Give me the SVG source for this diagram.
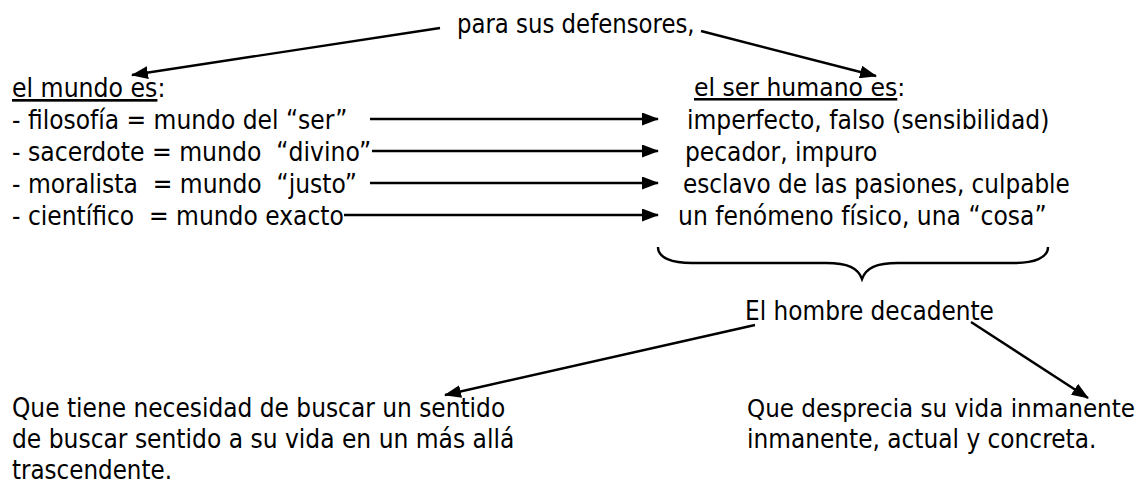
<svg xmlns="http://www.w3.org/2000/svg" width="1145" height="485" viewBox="0 0 1145 485">
<style>
text{font-family:"DejaVu Sans Condensed","DejaVu Sans",sans-serif;font-stretch:condensed;font-size:26.67px;fill:#000;white-space:pre}
.u{text-decoration:underline}
.c{stroke:#000;stroke-width:2.4;fill:none}
</style>
<defs>
<marker id="ah" markerUnits="userSpaceOnUse" markerWidth="17" markerHeight="13" refX="16" refY="6.5" orient="auto">
<path d="M0,0 L17,6.5 L0,13 Z" fill="#000"/>
</marker>
</defs>
<rect width="1145" height="485" fill="#fff"/>
<g id="top"><text x="457" y="33" textLength="237.6" lengthAdjust="spacingAndGlyphs">para sus defensores,</text></g>
<g id="mundo">
<text x="12" y="97" textLength="153.4" lengthAdjust="spacingAndGlyphs"><tspan class="u">el mundo es</tspan>:</text>
<text x="12" y="129" textLength="335.5" lengthAdjust="spacingAndGlyphs">- filosofía = mundo del “ser”</text>
<text x="12" y="161" textLength="359.1" lengthAdjust="spacingAndGlyphs">- sacerdote = mundo  “divino”</text>
<text x="12" y="193" textLength="345" lengthAdjust="spacingAndGlyphs">- moralista  = mundo  “justo”</text>
<text x="12" y="225" textLength="331.8" lengthAdjust="spacingAndGlyphs">- científico  = mundo exacto</text>
</g>
<g id="humano">
<text x="694" y="96" style="font-size:25.5px" textLength="211.2" lengthAdjust="spacingAndGlyphs"><tspan class="u">el ser humano es</tspan>:</text>
<text x="687" y="129" textLength="362.4" lengthAdjust="spacingAndGlyphs">imperfecto, falso (sensibilidad)</text>
<text x="685" y="161" textLength="192.3" lengthAdjust="spacingAndGlyphs">pecador, impuro</text>
<text x="683" y="193" textLength="386.8" lengthAdjust="spacingAndGlyphs">esclavo de las pasiones, culpable</text>
<text x="678" y="225" textLength="368.6" lengthAdjust="spacingAndGlyphs">un fenómeno físico, una “cosa”</text>
</g>
<g id="decadente"><text x="745" y="320" textLength="248.9" lengthAdjust="spacingAndGlyphs">El hombre decadente</text></g>
<g id="trascendente">
<text x="12" y="417" textLength="493.2" lengthAdjust="spacingAndGlyphs">Que tiene necesidad de buscar un sentido</text>
<text x="12" y="448" textLength="502.3" lengthAdjust="spacingAndGlyphs">de buscar sentido a su vida en un más allá</text>
<text x="12" y="479" textLength="160" lengthAdjust="spacingAndGlyphs">trascendente.</text>
</g>
<g id="desprecia">
<text x="747" y="417" style="font-size:25px" textLength="388" lengthAdjust="spacingAndGlyphs">Que desprecia su vida inmanente</text>
<text x="747" y="448" textLength="349.3" lengthAdjust="spacingAndGlyphs">inmanente, actual y concreta.</text>
</g>
<g id="connectors">
<line class="c" x1="440" y1="28" x2="132" y2="75" marker-end="url(#ah)"/>
<line class="c" x1="701" y1="31" x2="876" y2="76" marker-end="url(#ah)"/>
<line class="c" x1="370" y1="119" x2="658" y2="119" marker-end="url(#ah)"/>
<line class="c" x1="372" y1="151" x2="658" y2="151" marker-end="url(#ah)"/>
<line class="c" x1="370" y1="183" x2="658" y2="183" marker-end="url(#ah)"/>
<line class="c" x1="344" y1="215" x2="658" y2="215" marker-end="url(#ah)"/>
<path class="c" d="M658 247 C658 258 672 263 692 263 L826 263 C848 263 858 268 862 279 C866 268 876 263 898 263 L1014 263 C1034 263 1048 258 1048 247"/>
<line class="c" x1="755" y1="325" x2="445" y2="395" marker-end="url(#ah)"/>
<line class="c" x1="971" y1="322" x2="1088" y2="398" marker-end="url(#ah)"/>
</g>
</svg>
